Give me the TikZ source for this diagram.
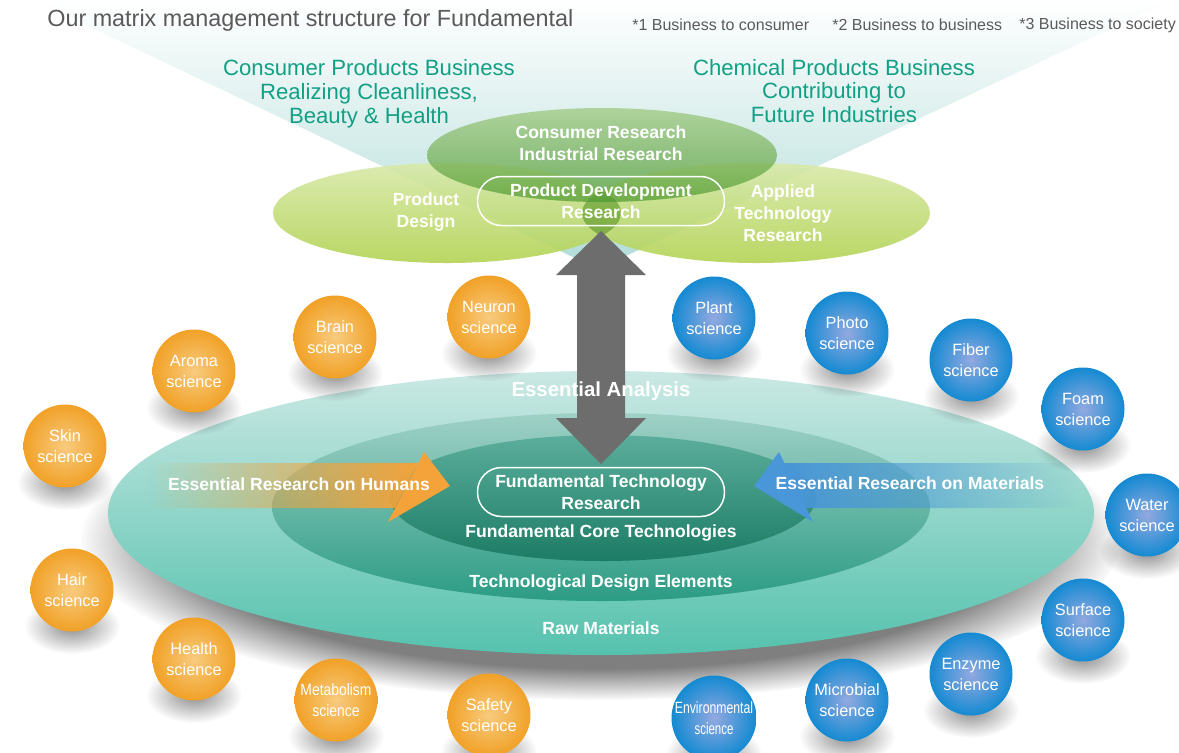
\documentclass[tikz,border=0pt]{standalone}
\usepackage{fontspec}
\setmainfont{Liberation Sans}
\usetikzlibrary{fadings}
\definecolor{titlegray}{HTML}{5A5A5A}
\definecolor{bizgreen}{HTML}{12A085}
\definecolor{funnelteal}{HTML}{B0DCD8}
\definecolor{lightlime}{HTML}{D8E9A9}
\definecolor{lime}{HTML}{B3D353}
\definecolor{leafhi}{HTML}{9CC77C}
\definecolor{leaf}{HTML}{4F9A2F}
\definecolor{lensgreen}{HTML}{4E8F22}
\definecolor{arrowgray}{HTML}{6D6D6D}
\definecolor{outertop}{HTML}{CBE8E4}
\definecolor{outerbot}{HTML}{55C2AD}
\definecolor{midtop}{HTML}{9FD0C6}
\definecolor{midbot}{HTML}{2C9C84}
\definecolor{innertop}{HTML}{5BAE9B}
\definecolor{innerbot}{HTML}{1C7C65}
\definecolor{humanorange}{HTML}{F4A33A}
\definecolor{matblue}{HTML}{4996D8}
\definecolor{ballorange}{HTML}{F1A127}
\definecolor{ballorangehi}{HTML}{F8CB7E}
\definecolor{ballblue}{HTML}{148AD2}
\definecolor{ballbluehi}{HTML}{93A9E0}
\tikzfading[name=shaftfade, left color=transparent!100, middle color=transparent!0, right color=transparent!0]
\tikzfading[name=softdot, inner color=transparent!0, outer color=transparent!100]
\tikzstyle{ball} = [circle, minimum size=1.66cm, inner sep=0pt, align=center, text=white, font=\fontsize{9.3}{12}\selectfont]
\tikzstyle{orangeball} = [ball, shading=radial, inner color=ballorangehi, outer color=ballorange]
\tikzstyle{blueball} = [ball, shading=radial, inner color=ballbluehi, outer color=ballblue]
\tikzstyle{ballshadow} = [fill=black, opacity=0.45, path fading=softdot]
\tikzstyle{bizhead} = [text=bizgreen, align=center, font=\fontsize{12.6}{13.6}\selectfont]
\tikzstyle{whitebold} = [text=white, align=center, font=\bfseries\fontsize{10}{12.5}\selectfont]
\tikzstyle{pill} = [whitebold, rectangle, rounded corners=0.48cm, draw=white, line width=0.85pt, minimum width=4.94cm, minimum height=0.98cm, inner sep=0pt]
\tikzstyle{note} = [anchor=west, inner sep=0pt, text=titlegray, font=\fontsize{9.1}{11}\selectfont]

\begin{document}
\begin{tikzpicture}[x=0.02cm, y=-0.02cm]
	\useasboundingbox (0,0) rectangle (1179,752);
	\fill[white] (0,0) rectangle (1179,752);
	% Funnel and business fields
	\shade[top color=white, bottom color=funnelteal] (34,0) -- (1172,0) -- (598,269) -- cycle;
	\node (title) [anchor=west, inner sep=0pt, text=titlegray, font=\fontsize{13.3}{15}\selectfont] at (47,20) {Our matrix management structure for Fundamental};
	\node (fn1) [note] at (632,25) {*1 Business to consumer};
	\node (fn2) [note] at (832,25) {*2 Business to business};
	\node (fn3) [note] at (1019,25) {*3 Business to society};
	\node (b2c) [bizhead] at (369,94) {Consumer Products Business\\Realizing Cleanliness,\\Beauty \& Health};
	\node (b2b) [bizhead] at (834,91) {Chemical Products Business\\Contributing to\\Future Industries};
	% Research ellipses
	\shade[top color=lightlime, bottom color=lime, opacity=0.9] (447,213) ellipse (174 and 50);
	\shade[top color=lightlime, bottom color=lime, opacity=0.9] (756,213) ellipse (174 and 50);
	\begin{scope}
		\clip (447,213) ellipse (174 and 50);
		\fill[lensgreen, opacity=0.55] (756,213) ellipse (174 and 50);
	\end{scope}
	\shade[top color=leafhi, bottom color=leaf, opacity=0.72] (602,155) ellipse (175 and 47);
	\node (consumer) [whitebold] at (601,143) {Consumer Research\\Industrial Research};
	\node (design) [whitebold] at (426,212) {Product\\Design};
	\node (applied) [whitebold] at (783,213) {Applied\\Technology\\Research};
	\node (pdr) [pill] at (601,201) {Product Development\\Research};
	% Technology layers
	\fill[black, opacity=0.5, path fading=circle with fuzzy edge 20 percent] (601,540) ellipse (520 and 160);
	\shade[top color=outertop, bottom color=outerbot] (601,513) ellipse (493 and 142);
	\shade[top color=midtop, bottom color=midbot] (601,507) ellipse (329 and 94);
	\shade[top color=innertop, bottom color=innerbot] (603,498) ellipse (213 and 63);
	% Arrows
	\fill[arrowgray] (601,231) -- (646,275) -- (625,275) -- (625,418) -- (646,418) -- (601,464) -- (556,418) -- (577,418) -- (577,275) -- (556,275) -- cycle;
	\fill[humanorange, path fading=shaftfade] (148,463) -- (418,463) -- (395,508) -- (148,508) -- cycle;
	\fill[humanorange] (424,452) -- (450,486) -- (388,522) -- cycle;
	\fill[matblue, path fading=shaftfade, fading angle=180] (1078,463) -- (784,463) -- (806,508) -- (1078,508) -- cycle;
	\fill[matblue] (779,452) -- (754,486) -- (813,522) -- cycle;
	\node (analysis) [whitebold, font=\bfseries\fontsize{11.6}{13}\selectfont] at (601,391) {Essential Analysis};
	\node (humans) [whitebold] at (299,484) {Essential Research on Humans};
	\node (materials) [whitebold] at (910,483) {Essential Research on Materials};
	\node (ftr) [pill] at (601,492) {Fundamental Technology\\Research};
	\node (core) [whitebold] at (601,533) {Fundamental Core Technologies};
	\node (elements) [whitebold] at (601,583) {Technological Design Elements};
	\node (raw) [whitebold] at (601,628) {Raw Materials};
	% Ball shadows
	\foreach \x/\y in {65/446, 194/371, 335/337, 489/317, 72/590, 194/659, 336/700, 489/715, 714/318, 847/333, 971/360, 1083/409, 1147/515, 1083/620, 971/674, 847/700, 714/718}
		\fill[ballshadow] (\x,\y+36) ellipse (48 and 28);
	% Human sciences
	\node (skin) [orangeball] at (65,446) {Skin\\science};
	\node (aroma) [orangeball] at (194,371) {Aroma\\science};
	\node (brain) [orangeball] at (335,337) {Brain\\science};
	\node (neuron) [orangeball] at (489,317) {Neuron\\science};
	\node (hair) [orangeball] at (72,590) {Hair\\science};
	\node (health) [orangeball] at (194,659) {Health\\science};
	\node (metabolism) [orangeball] at (336,700) {\scalebox{0.85}[1]{Metabolism}\\\scalebox{0.85}[1]{science}};
	\node (safety) [orangeball] at (489,715) {Safety\\science};
	% Material sciences
	\node (plant) [blueball] at (714,318) {Plant\\science};
	\node (photo) [blueball] at (847,333) {Photo\\science};
	\node (fiber) [blueball] at (971,360) {Fiber\\science};
	\node (foam) [blueball] at (1083,409) {Foam\\science};
	\node (water) [blueball] at (1147,515) {Water\\science};
	\node (surface) [blueball] at (1083,620) {Surface\\science};
	\node (enzyme) [blueball] at (971,674) {Enzyme\\science};
	\node (microbial) [blueball] at (847,700) {Microbial\\science};
	\node (environmental) [blueball] at (714,718) {\scalebox{0.75}[1]{Environmental}\\\scalebox{0.7}[1]{science}};
\end{tikzpicture}
\end{document}
